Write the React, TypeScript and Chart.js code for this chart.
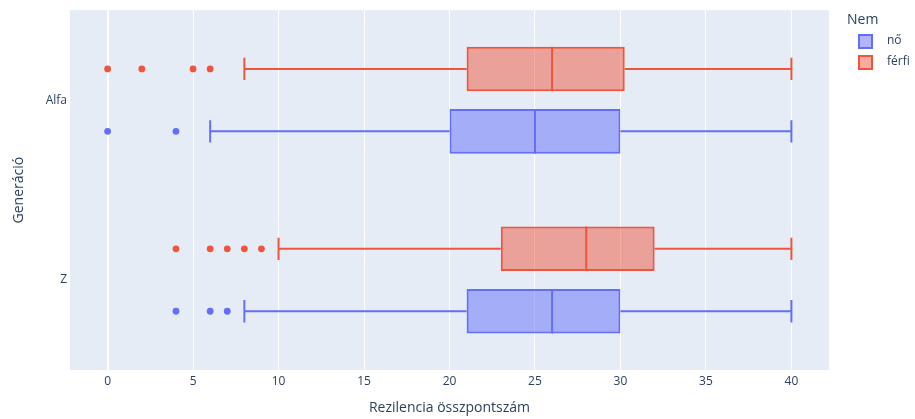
import React, { useEffect, useRef } from "react";
import { Chart, registerables } from "chart.js";

Chart.register(...registerables);

const categories = ["Alfa", "Z"];
const seriesNames = ["nő", "férfi"];
const xTicks = [0, 5, 10, 15, 20, 25, 30, 35, 40];

const noLow = [6, 8];
const noQ1 = [20, 21];
const noMedian = [25, 26];
const noQ3 = [30, 30];
const noHigh = [40, 40];
const noOutliers = [[0, 4], [4, 6, 7]];

const ferfiLow = [8, 10];
const ferfiQ1 = [21, 23];
const ferfiMedian = [26, 28];
const ferfiQ3 = [30.25, 32];
const ferfiHigh = [40, 40];
const ferfiOutliers = [[0, 2, 5, 6], [4, 6, 7, 8, 9]];

const BLUE = "rgb(99,110,250)";
const RED = "rgb(239,85,59)";
const BLUE_FILL = "rgba(99,110,250,0.5)";
const RED_FILL = "rgba(239,85,59,0.5)";
const TEXT = "#2a3f5f";
const FONT = "'Open Sans', 'Noto Sans', sans-serif";

const stats = [
  { low: ferfiLow, q1: ferfiQ1, med: ferfiMedian, q3: ferfiQ3, high: ferfiHigh, out: ferfiOutliers, color: RED },
  { low: noLow, q1: noQ1, med: noMedian, q3: noQ3, high: noHigh, out: noOutliers, color: BLUE },
];

const bgPlugin = {
  id: "plotBg",
  beforeDraw(chart: any) {
    const { ctx, chartArea: a } = chart;
    ctx.save();
    ctx.fillStyle = "#E5ECF6";
    ctx.fillRect(a.left, a.top, a.right - a.left, a.bottom - a.top);
    ctx.restore();
  },
};

const boxPlugin = {
  id: "boxParts",
  afterDatasetsDraw(chart: any) {
    const { ctx } = chart;
    const xs = chart.scales.x;
    stats.forEach((s, di) => {
      const meta = chart.getDatasetMeta(di);
      meta.data.forEach((el: any, j: number) => {
        const y = el.y;
        const h = el.height;
        ctx.save();
        ctx.strokeStyle = s.color;
        ctx.lineWidth = 2;
        ctx.beginPath();
        ctx.moveTo(xs.getPixelForValue(s.low[j]), y);
        ctx.lineTo(xs.getPixelForValue(s.q1[j]), y);
        ctx.moveTo(xs.getPixelForValue(s.q3[j]), y);
        ctx.lineTo(xs.getPixelForValue(s.high[j]), y);
        const cap = h / 4;
        ctx.moveTo(xs.getPixelForValue(s.low[j]), y - cap);
        ctx.lineTo(xs.getPixelForValue(s.low[j]), y + cap);
        ctx.moveTo(xs.getPixelForValue(s.high[j]), y - cap);
        ctx.lineTo(xs.getPixelForValue(s.high[j]), y + cap);
        const mx = xs.getPixelForValue(s.med[j]);
        ctx.moveTo(mx, y - h / 2);
        ctx.lineTo(mx, y + h / 2);
        ctx.stroke();
        ctx.fillStyle = s.color;
        s.out[j].forEach((v: number) => {
          ctx.beginPath();
          ctx.arc(xs.getPixelForValue(v), y, 3.4, 0, Math.PI * 2);
          ctx.fill();
        });
        ctx.restore();
      });
    });
  },
};

const legendPlugin = {
  id: "plotlyLegend",
  afterDraw(chart: any) {
    const { ctx } = chart;
    ctx.save();
    ctx.fillStyle = TEXT;
    ctx.textBaseline = "middle";
    ctx.textAlign = "left";
    ctx.font = `14px ${FONT}`;
    ctx.fillText("Nem", 847, 20);
    ctx.font = `12px ${FONT}`;
    const items = [
      { name: seriesNames[0], fill: BLUE_FILL, stroke: BLUE },
      { name: seriesNames[1], fill: RED_FILL, stroke: RED },
    ];
    items.forEach((it, i) => {
      const cy = 41 + i * 21;
      ctx.fillStyle = "#fff";
      ctx.fillRect(859, cy - 6, 13, 13);
      ctx.fillStyle = it.fill;
      ctx.fillRect(859, cy - 6, 13, 13);
      ctx.strokeStyle = it.stroke;
      ctx.lineWidth = 2;
      ctx.strokeRect(859, cy - 6, 13, 13);
      ctx.fillStyle = TEXT;
      ctx.fillText(it.name, 887, cy);
    });
    ctx.restore();
  },
};

export default function App() {
  const ref = useRef<HTMLCanvasElement>(null);
  useEffect(() => {
    document.body.style.margin = "0";
    const chart = new Chart(ref.current as HTMLCanvasElement, {
      type: "bar",
      data: {
        labels: categories,
        datasets: [
          {
            label: seriesNames[1],
            data: ferfiQ1.map((q, i) => [q, ferfiQ3[i]]),
            backgroundColor: RED_FILL,
            borderColor: RED,
            borderWidth: 2,
            borderSkipped: false,
            categoryPercentage: 0.694,
            barPercentage: 0.714,
          },
          {
            label: seriesNames[0],
            data: noQ1.map((q, i) => [q, noQ3[i]]),
            backgroundColor: BLUE_FILL,
            borderColor: BLUE,
            borderWidth: 2,
            borderSkipped: false,
            categoryPercentage: 0.694,
            barPercentage: 0.714,
          },
        ] as any,
      },
      options: {
        indexAxis: "y",
        animation: false,
        responsive: false,
        layout: { padding: { top: 7, right: 86, left: 0, bottom: 0 } },
        plugins: { legend: { display: false }, tooltip: { enabled: false } },
        scales: {
          x: {
            type: "linear",
            min: -2.2,
            max: 42.2,
            afterBuildTicks: (s: any) => {
              s.ticks = xTicks.map((v) => ({ value: v }));
            },
            afterFit: (s: any) => {
              s.height = 49;
            },
            grid: {
              color: "#ffffff",
              lineWidth: (c: any) => (c.tick && c.tick.value === 0 ? 2 : 1),
              drawTicks: false,
            },
            border: { display: false },
            ticks: { color: TEXT, font: { family: FONT, size: 12 }, padding: 4 },
            title: {
              display: true,
              text: "Rezilencia összpontszám",
              color: TEXT,
              font: { family: FONT, size: 14 },
              padding: { top: 4, bottom: 3 },
            },
          },
          y: {
            type: "category",
            afterFit: (s: any) => {
              s.width = 70;
            },
            grid: { display: false, drawTicks: false, tickLength: 0 },
            border: { display: false },
            ticks: { color: TEXT, font: { family: FONT, size: 12 }, padding: 3 },
            title: {
              display: true,
              text: "Generáció",
              color: TEXT,
              font: { family: FONT, size: 14 },
              padding: { top: 11, bottom: 0 },
            },
          },
        },
      } as any,
      plugins: [bgPlugin, boxPlugin, legendPlugin],
    });
    return () => chart.destroy();
  }, []);
  return <canvas ref={ref} width={915} height={419} />;
}
